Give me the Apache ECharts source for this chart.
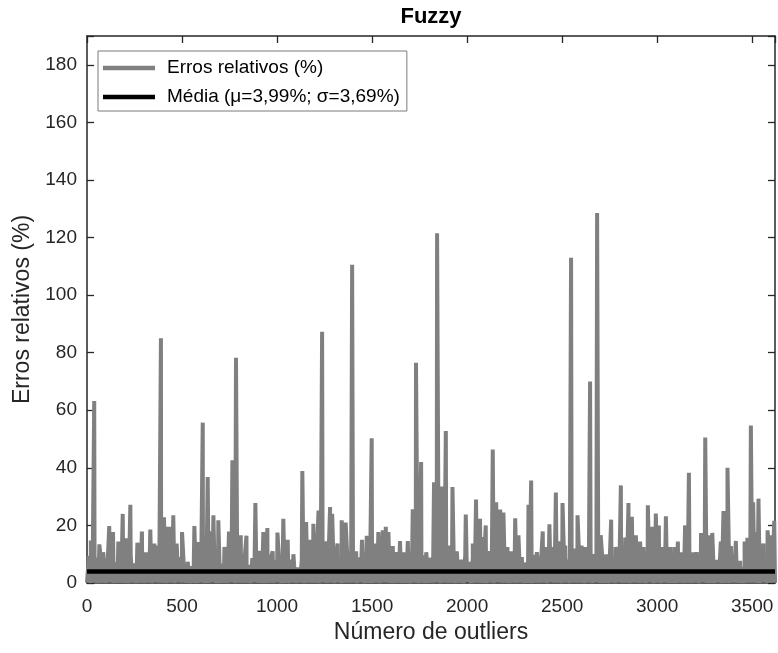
<!DOCTYPE html>
<html>
<head>
<meta charset="utf-8">
<script src="https://cdn.jsdelivr.net/npm/echarts@6/dist/echarts.min.js"></script>
<style>
html,body{margin:0;padding:0;background:#fff;}
#chart{width:778px;height:653px;}
</style>
</head>
<body>
<div id="chart"></div>
<script>
// ---- data ----
const titleText = 'Fuzzy';
const xName = 'Número de outliers';
const yName = 'Erros relativos (%)';
const seriesNames = ['Erros relativos (%)', 'Média (μ=3,99%; σ=3,69%)'];
const xMax = 3620;
const yMax = 190;
const xTicks = [0, 500, 1000, 1500, 2000, 2500, 3000, 3500];
const yTicks = [0, 20, 40, 60, 80, 100, 120, 140, 160, 180];
const meanValue = 3.99;

// dense low-level band, one estimate every 10 outliers
const baseStep = 10;
const baseline = [
 0.1, 9.4, 0.0, 7.6, 0.2, 8.8, 0.0, 10.2, 0.1, 6.9, 0.1, 9.1, 0.3, 8.3, 0.0, 7.2, 0.1, 9.8, 0.1, 8.1,
 0.1, 7.4, 0.0, 9.6, 0.2, 6.8, 0.0, 8.7, 0.1, 10.1, 0.1, 7.9, 0.2, 8.5, 0.0, 9.3, 0.3, 6.4, 0.1, 8.9,
 0.1, 9.7, 0.0, 7.1, 0.2, 8.4, 0.0, 6.2, 0.3, 9.0, 0.1, 5.1, 0.1, 4.6, 0.0, 5.8, 0.1, 8.6, 0.0, 9.5,
 0.2, 8.2, 0.0, 10.4, 0.1, 7.7, 0.3, 9.2, 0.0, 8.0, 0.1, 6.7, 0.1, 9.9, 0.0, 7.5, 0.3, 8.8, 0.0, 9.4,
 0.1, 7.0, 0.1, 9.1, 0.2, 6.3, 0.0, 8.6, 0.3, 9.8, 0.1, 7.4, 0.1, 8.9, 0.0, 6.6, 0.2, 9.3, 0.1, 7.8,
 0.2, 8.5, 0.0, 9.6, 0.1, 7.3, 0.0, 8.1, 0.2, 6.0, 0.1, 5.4, 0.3, 7.9, 0.0, 9.2, 0.1, 8.7, 0.1, 10.0,
 0.1, 9.4, 0.0, 7.6, 0.3, 8.8, 0.1, 6.9, 0.2, 9.7, 0.0, 8.2, 0.2, 7.1, 0.0, 9.0, 0.1, 8.4, 0.1, 9.9,
 0.2, 6.8, 0.0, 8.9, 0.3, 7.7, 0.0, 9.5, 0.1, 8.0, 0.1, 6.5, 0.2, 9.3, 0.0, 7.4, 0.3, 8.6, 0.1, 7.9,
 0.1, 8.3, 0.0, 6.1, 0.2, 7.2, 0.1, 5.6, 0.1, 8.8, 0.0, 6.4, 0.2, 9.1, 0.0, 7.8, 0.1, 9.6, 0.0, 6.9,
 0.1, 8.7, 0.1, 9.9, 0.3, 7.5, 0.0, 8.4, 0.2, 6.7, 0.1, 9.2, 0.1, 7.0, 0.0, 5.9, 0.2, 8.1, 0.0, 9.4,
 0.3, 7.3, 0.0, 8.9, 0.1, 9.7, 0.1, 6.6, 0.1, 8.2, 0.0, 9.5, 0.2, 7.6, 0.0, 8.8, 0.3, 6.9, 0.1, 9.0,
 0.1, 8.4, 0.0, 7.1, 0.2, 6.0, 0.1, 5.3, 0.2, 4.8, 0.0, 6.2, 0.1, 8.5, 0.0, 9.8, 0.1, 7.7, 0.1, 8.9,
 0.2, 9.3, 0.0, 7.9, 0.3, 8.6, 0.1, 10.1, 0.1, 7.4, 0.0, 9.0, 0.2, 8.1, 0.0, 6.8, 0.2, 9.6, 0.1, 8.3,
 0.1, 7.5, 0.0, 9.2, 0.2, 6.4, 0.0, 8.7, 0.3, 7.8, 0.1, 9.9, 0.1, 6.1, 0.0, 7.3, 0.2, 8.8, 0.0, 9.4,
 0.3, 8.0, 0.1, 9.6, 0.1, 7.2, 0.0, 8.5, 0.2, 10.0, 0.1, 7.7, 0.1, 8.9, 0.0, 6.6, 0.3, 9.1, 0.0, 8.2,
 0.1, 7.4, 0.0, 9.3, 0.2, 8.1, 0.1, 6.9, 0.1, 9.7, 0.0, 7.0, 0.2, 8.4, 0.0, 9.0, 0.1, 6.3, 0.1, 5.7,
 0.2, 8.6, 0.0, 9.8, 0.3, 7.3, 0.1, 8.0, 0.1, 6.5, 0.0, 5.2, 0.2, 7.9, 0.0, 9.4, 0.1, 8.7, 0.0, 7.1,
 0.2, 9.2, 0.1, 6.0, 0.1, 5.5, 0.0, 7.8, 0.2, 8.9, 0.1, 9.6, 0.1, 7.4, 0.0, 8.3, 0.3, 9.0, 0.0, 8.5,
 0.1, 9.7, 0.1
];

// individual spikes: [outlier number, relative error %]
const peaks = [
 [20,14.8],[38,63.2],[65,13.4],[85,10.7],[117,19.8],[137,17.7],[165,14.4],[188,24],[209,15.5],[228,27.2],
 [265,14],[289,17.9],[310,10.7],[333,18.6],[354,13.7],[370,13],[389,85],[405,22.8],[422,19.5],[437,19.5],
 [454,23.5],[472,13.7],[500,17.7],[530,7.4],[565,19.8],[586,14.2],[609,55.7],[623,14],[635,36.8],[650,18],
 [665,23.5],[691,21.8],[723,12.5],[747,17.9],[765,42.6],[784,78.2],[809,16.6],[839,16.4],[886,27.8],[907,11.2],
 [928,17.7],[949,19.1],[977,11],[1002,17.5],[1033,22.3],[1056,15],[1086,10],[1133,38.9],[1153,21.2],[1174,15],
 [1191,20.6],[1218,25.2],[1237,87.3],[1256,14.5],[1279,26.4],[1290,24],[1318,13.7],[1340,21.8],[1361,21],[1381,11],
 [1395,110.5],[1416,11],[1447,15],[1472,16.4],[1498,50.3],[1516,13.7],[1533,17.7],[1556,18.3],[1572,19.5],[1586,17.7],
 [1609,12.8],[1626,10.7],[1647,14.6],[1665,10.7],[1688,14.6],[1714,25.6],[1731,76.5],[1758,42],[1785,10.7],[1806,7.7],
 [1826,35],[1842,121.5],[1867,33.5],[1888,52.8],[1910,13],[1923,33.3],[1946,11],[1972,7.7],[1993,23.8],[2014,7.7],
 [2030,13.7],[2047,29],[2068,22.3],[2082,16],[2098,20],[2117,11],[2135,46.4],[2153,28],[2174,25.5],[2191,24.5],
 [2212,12.5],[2232,11],[2253,22.5],[2270,16.6],[2288,9],[2305,7],[2323,27.2],[2337,35.6],[2367,10.7],[2398,17.9],
 [2416,12.5],[2433,20.4],[2446,12.5],[2467,31.4],[2484,14.5],[2502,27.8],[2516,13],[2547,113],[2565,12],[2581,23.5],
 [2602,13],[2623,12.5],[2647,70],[2668,10],[2684,128.5],[2703,16.6],[2732,10],[2758,22],[2781,12.5],[2809,33.9],
 [2832,15.8],[2849,27.8],[2867,23],[2888,16.6],[2910,14.4],[2928,12.5],[2951,27],[2972,19.5],[2993,24.1],[3009,20],
 [3028,12.5],[3046,23.2],[3068,12.5],[3090,12.5],[3109,14.4],[3130,10.7],[3147,20],[3167,38.3],[3191,10.7],[3208,10.7],
 [3231,17.4],[3253,50.5],[3274,16.6],[3290,17.4],[3314,8],[3335,14.4],[3349,25],[3370,40],[3388,12.8],[3414,14.6],
 [3436,7.7],[3460,14.4],[3475,15.7],[3493,54.7],[3505,28],[3512,17.7],[3533,29.3],[3559,13.7],[3581,18.3],[3595,16.6],
 [3616,21.6]
];

// ---- build series data ----
const errorPoints = baseline.map((v, i) => [i * baseStep, v])
  .concat(peaks)
  .sort((a, b) => a[0] - b[0]);
const meanPoints = [[0, meanValue], [xMax, meanValue]];

const FONT = 'Liberation Sans, Arial, Helvetica, sans-serif';
const AX = '#262626';

function tickFmt(list) {
  return function (v) { return list.indexOf(v) >= 0 ? String(v) : ''; };
}

const chart = echarts.init(document.getElementById('chart'), null, {renderer: 'canvas'});

const axisCommon = {
  axisLine: {show: true, onZero: false, lineStyle: {color: AX, width: 1.5}},
  axisTick: {show: true, inside: true, length: 7, lineStyle: {color: AX, width: 1.3}},
  splitLine: {show: false}
};

chart.setOption({
  animation: false,
  backgroundColor: '#fff',
  title: {
    text: titleText,
    left: 431,
    top: 6,
    padding: 0,
    textAlign: 'center',
    textStyle: {fontFamily: FONT, fontSize: 22, fontWeight: 'bold', color: '#000'}
  },
  legend: {
    data: seriesNames,
    orient: 'vertical',
    left: 98,
    top: 51,
    padding: [6, 7, 3, 5],
    icon: 'rect',
    itemWidth: 52,
    itemHeight: 4.5,
    itemGap: 7,
    borderColor: '#7a7a7a',
    borderWidth: 1,
    borderRadius: 0,
    backgroundColor: '#fff',
    selectedMode: false,
    textStyle: {fontFamily: FONT, fontSize: 19, color: '#000', lineHeight: 22, padding: [0, 0, 0, 7]}
  },
  grid: {left: 87, right: 3, top: 36, bottom: 70, containLabel: false},
  xAxis: [
    Object.assign({
      type: 'value', position: 'bottom', min: 0, max: xMax, interval: 500,
      name: xName, nameLocation: 'middle', nameGap: 36,
      nameTextStyle: {fontFamily: FONT, fontSize: 23, color: AX},
      axisLabel: {show: true, margin: 14, fontFamily: FONT, fontSize: 19, color: AX, formatter: tickFmt(xTicks)}
    }, axisCommon),
    Object.assign({
      type: 'value', position: 'top', min: 0, max: xMax, interval: 500,
      axisLabel: {show: false}
    }, axisCommon)
  ],
  yAxis: [
    Object.assign({
      type: 'value', position: 'left', min: 0, max: yMax, interval: 20,
      name: yName, nameLocation: 'middle', nameGap: 50,
      nameTextStyle: {fontFamily: FONT, fontSize: 23, color: AX},
      axisLabel: {show: true, margin: 10, fontFamily: FONT, fontSize: 19, color: AX, formatter: tickFmt(yTicks)}
    }, axisCommon),
    Object.assign({
      type: 'value', position: 'right', min: 0, max: yMax, interval: 20,
      axisLabel: {show: false}
    }, axisCommon)
  ],
  series: [
    {
      name: seriesNames[0], type: 'line', xAxisIndex: 0, yAxisIndex: 0,
      data: errorPoints, symbol: 'none', showSymbol: false, clip: false,
      lineStyle: {color: '#808080', width: 4}, itemStyle: {color: '#808080'},
      emphasis: {disabled: true}, silent: true, z: 2
    },
    {
      name: seriesNames[1], type: 'line', xAxisIndex: 0, yAxisIndex: 0,
      data: meanPoints, symbol: 'none', showSymbol: false,
      lineStyle: {color: '#000', width: 4.5}, itemStyle: {color: '#000'},
      emphasis: {disabled: true}, silent: true, z: 3
    }
  ]
});
</script>
</body>
</html>
